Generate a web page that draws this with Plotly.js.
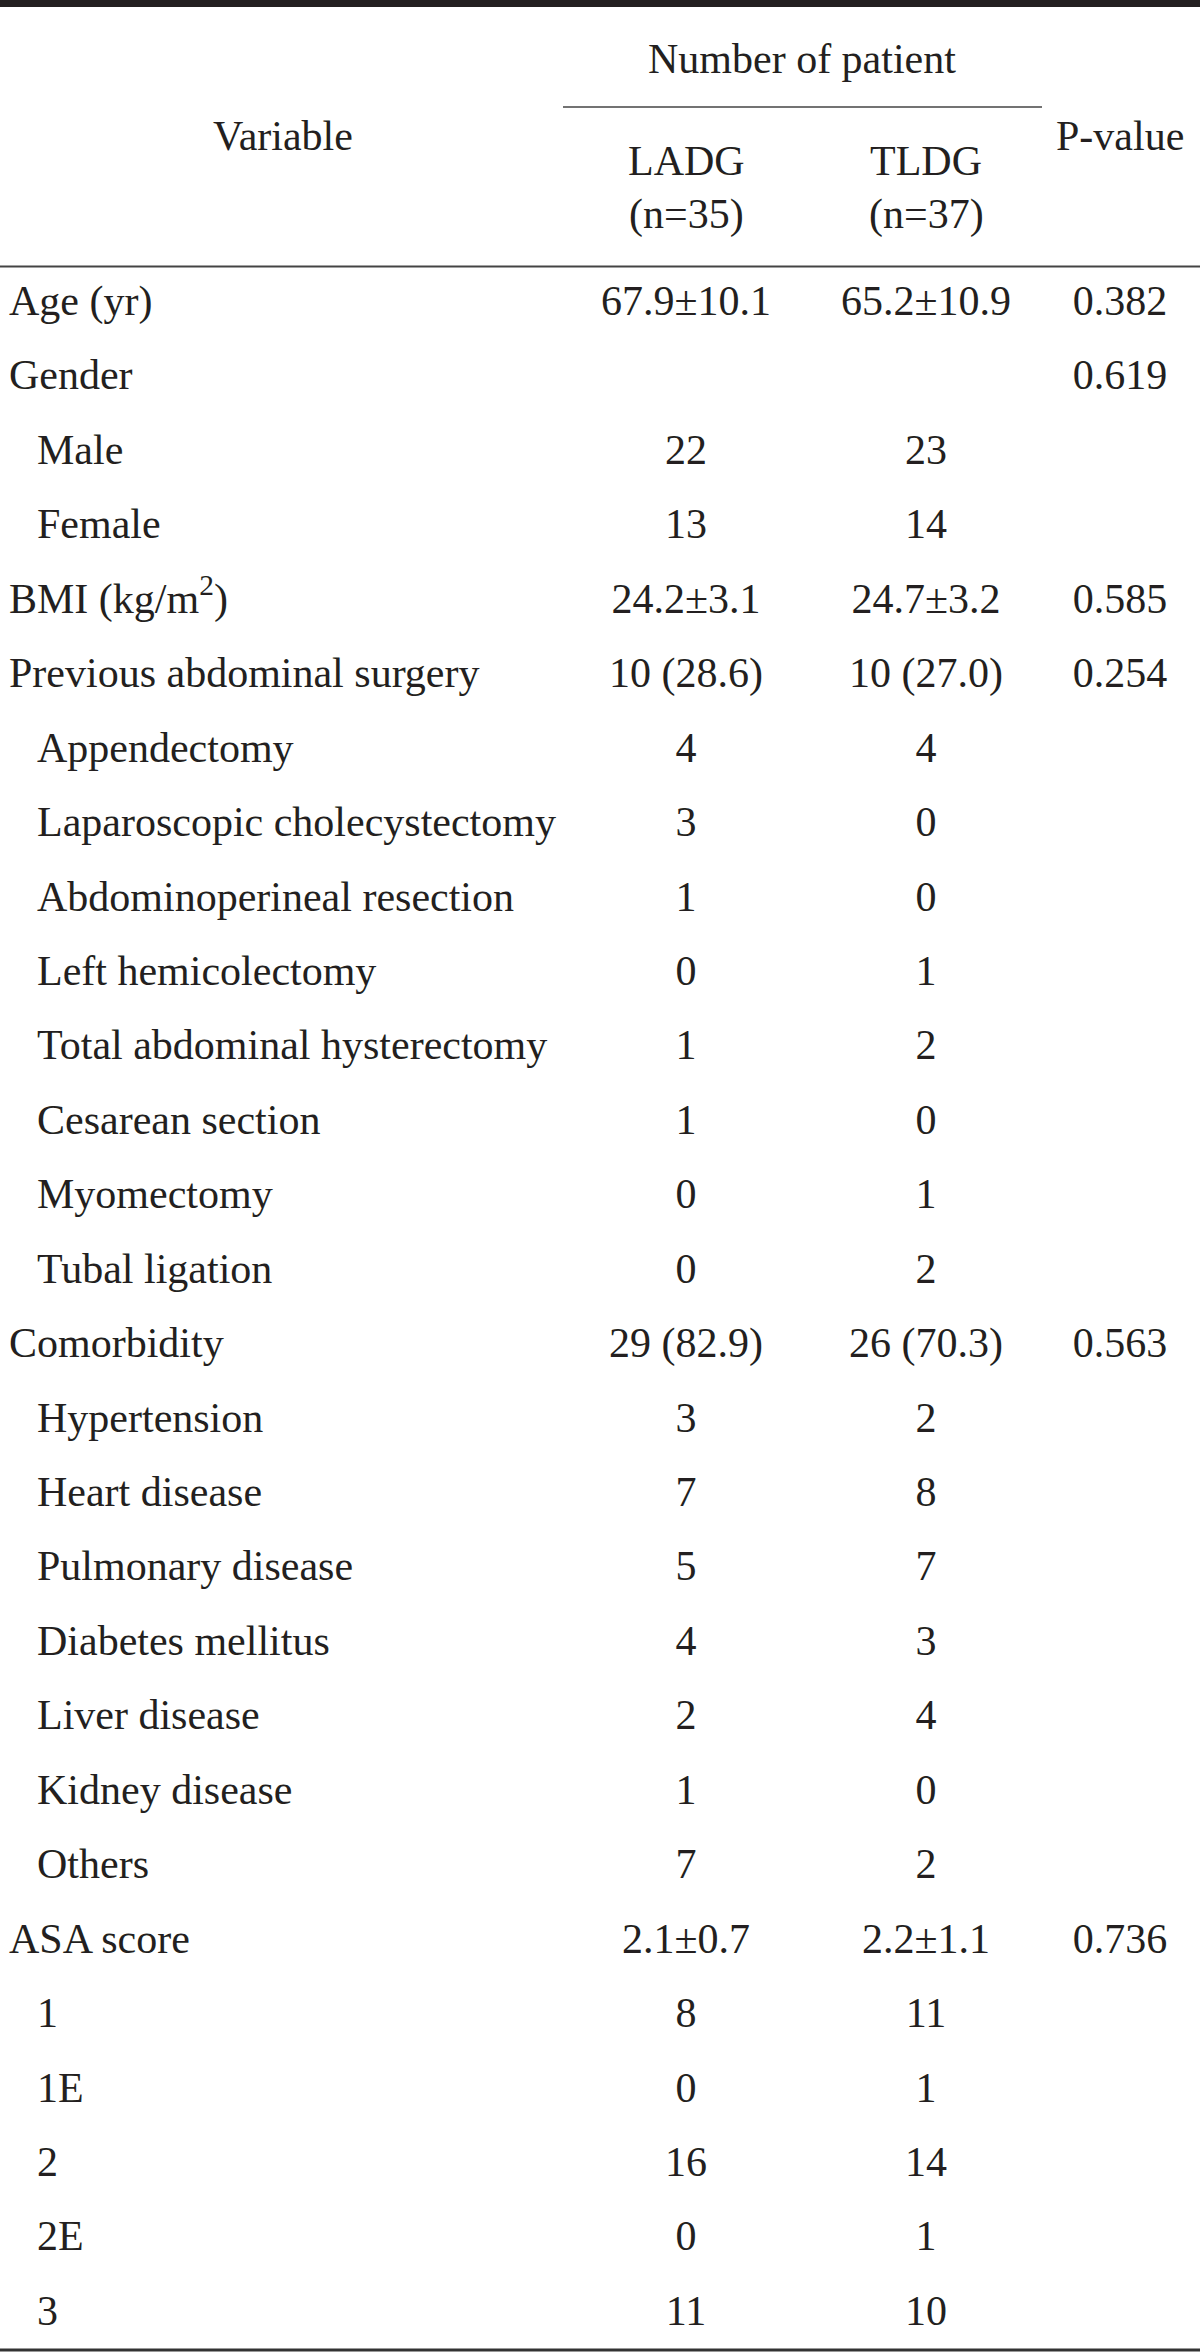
<!DOCTYPE html>
<html>
<head>
<meta charset="utf-8">
<script src="https://cdn.plot.ly/plotly-3.0.1.min.js"></script>
<style>html,body{margin:0;padding:0;background:#fff;}#chart{width:1200px;height:2352px;}</style>
</head>
<body>
<div id="chart"></div>
<script>
// ---- Data ----
const variables = ["Age (yr)", "Gender", "Male", "Female", "BMI (kg/m<sup>2</sup>)", "Previous abdominal surgery",
  "Appendectomy", "Laparoscopic cholecystectomy", "Abdominoperineal resection", "Left hemicolectomy",
  "Total abdominal hysterectomy", "Cesarean section", "Myomectomy", "Tubal ligation", "Comorbidity",
  "Hypertension", "Heart disease", "Pulmonary disease", "Diabetes mellitus", "Liver disease", "Kidney disease",
  "Others", "ASA score", "1", "1E", "2", "2E", "3"];
const indentLevel = [0,0,1,1,0,0,1,1,1,1,1,1,1,1,0,1,1,1,1,1,1,1,0,1,1,1,1,1];
const ladg = ["67.9±10.1","","22","13","24.2±3.1","10 (28.6)","4","3","1","0","1","1","0","0","29 (82.9)",
  "3","7","5","4","2","1","7","2.1±0.7","8","0","16","0","11"];
const tldg = ["65.2±10.9","","23","14","24.7±3.2","10 (27.0)","4","0","0","1","2","0","1","2","26 (70.3)",
  "2","8","7","3","4","0","2","2.2±1.1","11","1","14","1","10"];
const pvalues = ["0.382","0.619","","","0.585","0.254","","","","","","","","","0.563",
  "","","","","","","","0.736","","","","",""];
const headerGroup = "Number of patient";
const headerVariable = "Variable";
const headerP = "P-value";
const groupNames = ["LADG", "TLDG"];
const groupN = ["(n=35)", "(n=37)"];

// ---- Layout / style ----
const W = 1200, H = 2352;
const ROW0 = 304.5, ROWH = 74.44;           // pixel centre of first body row, row pitch
const yTop = -ROW0 / ROWH, yBot = (H - ROW0) / ROWH;
const pxToRow = px => (px - ROW0) / ROWH;
const xLabel = [9, 37];
const xLADG = 686, xTLDG = 926, xP = 1120;
const FONT = "Liberation Serif, Times New Roman, serif";
const FS = 42;
const INK = "#231f20";

function column(xFn, texts, pos) {
  const idx = texts.map((t, i) => i).filter(i => texts[i] !== "");
  return { x: idx.map(xFn), y: idx, text: idx.map(i => texts[i]), mode: "text", type: "scatter",
    textposition: pos, textfont: {family: FONT, size: FS, color: INK}, hoverinfo: "skip", showlegend: false };
}

const traces = [
  column(i => xLabel[indentLevel[i]], variables, "middle right"),
  column(() => xLADG, ladg, "middle center"),
  column(() => xTLDG, tldg, "middle center"),
  column(() => xP, pvalues, "middle center")
];

const ann = (x, ypx, text) => ({ x: x, y: pxToRow(ypx), xref: "x", yref: "y", text: text, showarrow: false,
  xanchor: "center", yanchor: "middle", font: {family: FONT, size: FS, color: INK} });

const annotations = [
  ann(802, 59, headerGroup),
  ann(283, 136, headerVariable),
  ann(xP, 136, headerP),
  ann(xLADG, 161, groupNames[0]),
  ann(xTLDG, 161, groupNames[1]),
  ann(xLADG, 214, groupN[0]),
  ann(xTLDG, 214, groupN[1])
];

const hline = (x0, x1, ypx, w, c) => ({ type: "line", xref: "x", yref: "y", x0: x0, x1: x1,
  y0: pxToRow(ypx), y1: pxToRow(ypx), line: {color: c, width: w} });

const shapes = [
  hline(0, W, 3.5, 7, "#231f20"),
  hline(563, 1042, 107, 1.5, "#444"),
  hline(0, W, 266.5, 2, "#444"),
  hline(0, W, 2350, 3, "#333")
];

const layout = {
  width: W, height: H,
  margin: {l: 0, r: 0, t: 0, b: 0, pad: 0},
  paper_bgcolor: "#fff", plot_bgcolor: "#fff",
  xaxis: {range: [0, W], visible: false, fixedrange: true},
  yaxis: {range: [yBot, yTop], visible: false, fixedrange: true},
  annotations: annotations,
  shapes: shapes,
  showlegend: false
};

Plotly.newPlot("chart", traces, layout, {staticPlot: true, displayModeBar: false});
</script>
</body>
</html>
